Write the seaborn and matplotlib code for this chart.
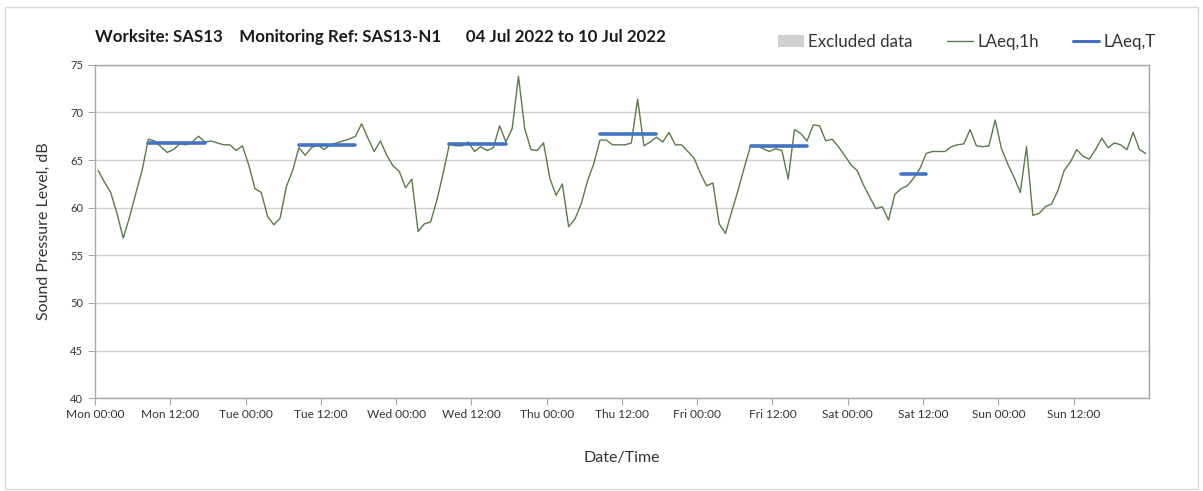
import numpy as np
import pandas as pd
import matplotlib
matplotlib.use("Agg")
import matplotlib.pyplot as plt
import matplotlib.dates as mdates
from matplotlib.patches import Patch, Rectangle
from matplotlib.lines import Line2D
import seaborn as sns

# ── Data ───────────────────────────────────────────────────────────────────────
START = "2022-07-04 00:30"   # hourly values plotted mid-hour
laeq_1h = [
    63.9, 62.7, 61.6, 59.4, 56.8, 59.0, 61.5, 63.9, 67.2, 67.0, 66.4, 65.8,
    66.1, 66.7, 66.6, 66.9, 67.5, 66.9, 67.0, 66.8, 66.6, 66.6, 66.0, 66.5,
    64.5, 62.0, 61.6, 59.1, 58.2, 58.9, 62.2, 63.9, 66.3, 65.5, 66.3, 66.6,
    66.1, 66.6, 66.8, 67.0, 67.2, 67.5, 68.8, 67.3, 65.9, 67.0, 65.5, 64.4,
    63.8, 62.1, 63.0, 57.5, 58.3, 58.5, 60.8, 63.6, 66.7, 66.5, 66.5, 66.9,
    65.9, 66.4, 66.0, 66.3, 68.6, 66.9, 68.3, 73.8, 68.3, 66.1, 66.0, 66.8,
    63.1, 61.3, 62.5, 58.0, 58.8, 60.4, 62.8, 64.6, 67.1, 67.1, 66.6, 66.6,
    66.6, 66.8, 71.4, 66.5, 66.9, 67.4, 66.9, 67.9, 66.6, 66.6, 65.9, 65.2,
    63.6, 62.3, 62.6, 58.3, 57.3, 59.6, 61.8, 64.2, 66.5, 66.5, 66.2, 65.9,
    66.2, 66.0, 63.0, 68.2, 67.8, 67.0, 68.7, 68.6, 67.0, 67.2, 66.4, 65.5,
    64.5, 63.9, 62.4, 61.1, 59.9, 60.1, 58.7, 61.4, 62.0, 62.3, 63.1, 64.1,
    65.7, 65.9, 65.9, 65.9, 66.4, 66.6, 66.7, 68.2, 66.5, 66.4, 66.5, 69.2,
    66.2, 64.6, 63.2, 61.6, 66.4, 59.2, 59.4, 60.1, 60.4, 61.8, 63.9, 64.8,
    66.1, 65.4, 65.1, 66.1, 67.3, 66.3, 66.8, 66.6, 66.1, 67.9, 66.1, 65.7,
]

# LAeq,T periods
seg_start = ["2022-07-04 08:30", "2022-07-05 08:30", "2022-07-06 08:30",
             "2022-07-07 08:30", "2022-07-08 08:30", "2022-07-09 08:30"]
seg_end   = ["2022-07-04 17:30", "2022-07-05 17:30", "2022-07-06 17:30",
             "2022-07-07 17:30", "2022-07-08 17:30", "2022-07-09 12:30"]
seg_level = [66.8, 66.6, 66.7, 67.7, 66.5, 63.5]

TITLE = "Worksite: SAS13    Monitoring Ref: SAS13-N1      04 Jul 2022 to 10 Jul 2022"

GREEN = "#5b7a47"
BLUE  = "#4472c4"
GRID  = "#d0d0d0"
TEXT  = "#333333"

# ── Frames ─────────────────────────────────────────────────────────────────────
df = pd.DataFrame({
    "time": pd.date_range(START, periods=len(laeq_1h), freq="h"),
    "level": laeq_1h,
})

seg_rows = []
for i, (s, e, v) in enumerate(zip(seg_start, seg_end, seg_level)):
    seg_rows.append({"seg": i, "time": pd.Timestamp(s), "level": v})
    seg_rows.append({"seg": i, "time": pd.Timestamp(e), "level": v})
df_seg = pd.DataFrame(seg_rows)

# ── Plot ───────────────────────────────────────────────────────────────────────
sns.set_style("white")
plt.rcParams["font.family"] = ["Lato", "DejaVu Sans"]

fig = plt.figure(figsize=(12.03, 4.91), dpi=100)
ax = fig.add_axes([0.079, 0.189, 0.876, 0.679])

sns.lineplot(data=df, x="time", y="level", color=GREEN, linewidth=1.0, ax=ax)
sns.lineplot(data=df_seg, x="time", y="level", units="seg", estimator=None,
             color=BLUE, linewidth=2.6, ax=ax)

ax.set_xlim(pd.Timestamp("2022-07-04"), pd.Timestamp("2022-07-11"))
ax.set_ylim(40, 75)
ax.set_yticks(range(40, 80, 5))

major = pd.date_range("2022-07-04", periods=14, freq="12h")
ax.set_xticks(major)
ax.xaxis.set_major_formatter(mdates.DateFormatter("%a %H:%M"))
ax.xaxis.set_minor_locator(mdates.DayLocator())

ax.grid(False)
ax.grid(axis="y", which="major", color=GRID, linewidth=1.0)
ax.grid(axis="x", which="minor", color=GRID, linewidth=1.0)
ax.set_axisbelow(True)

for sp in ax.spines.values():
    sp.set_color("#a6a6a6")
    sp.set_linewidth(1.0)

ax.tick_params(axis="x", which="major", length=5, color="#a6a6a6",
               labelsize=8.6, labelcolor=TEXT, pad=3, bottom=True)
ax.tick_params(axis="x", which="minor", length=0)
ax.tick_params(axis="y", length=5, color="#a6a6a6", labelsize=8,
               labelcolor=TEXT, left=True)

ax.set_xlabel("Date/Time", fontsize=11.5, color=TEXT, labelpad=22)
ax.set_ylabel("Sound Pressure Level, dB", fontsize=11.5, color=TEXT, labelpad=14)

fig.text(0.079, 0.925, TITLE, fontsize=12.2, fontweight="bold",
         color="#1a1a1a", ha="left", va="center")

handles = [
    Patch(facecolor="#d0d0d0", edgecolor="none", label="Excluded data"),
    Line2D([], [], color=GREEN, linewidth=1.0, label="LAeq,1h"),
    Line2D([], [], color=BLUE, linewidth=2.2, label="LAeq,T"),
]
fig.legend(handles=handles, loc="center right", bbox_to_anchor=(0.973, 0.915),
           ncol=3, frameon=False, fontsize=12.2, handlelength=1.55,
           handletextpad=0.25, columnspacing=2.0, labelcolor=TEXT)

# outer chart border
fig.patches.append(Rectangle((0.004, 0.005), 0.992, 0.981, transform=fig.transFigure,
                             fill=False, edgecolor="#d9d9d9", linewidth=1.0))

fig.savefig("out.png", dpi=100)
